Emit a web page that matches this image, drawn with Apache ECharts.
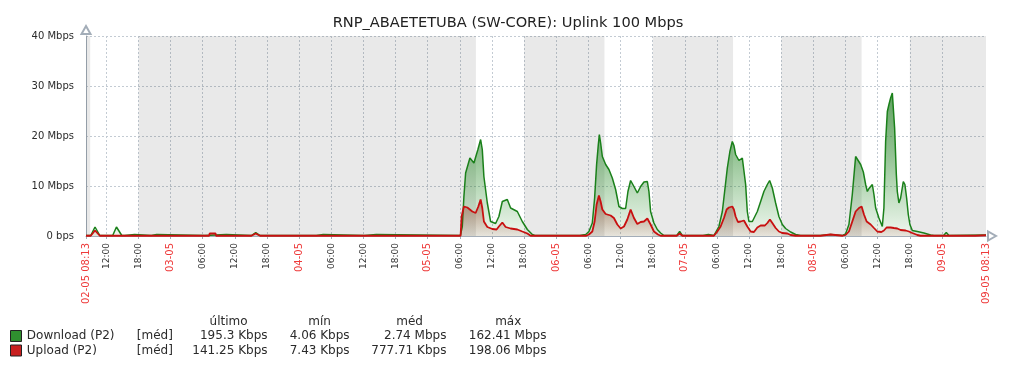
<!DOCTYPE html>
<html><head><meta charset="utf-8">
<script src="https://cdn.jsdelivr.net/npm/echarts@6/dist/echarts.min.js"></script>
<style>html,body{margin:0;padding:0;background:#fff}#c{width:1016px;height:368px}</style>
</head><body><div id="c"></div>
<script>
// ---------- data ----------
const chartTitle = 'RNP_ABAETETUBA (SW-CORE): Uplink 100 Mbps';
// x values are hours since 02-05 00:00
const xStart = 8 + 13 / 60;          // 02-05 08:13
const xEnd = xStart + 168;           // 09-05 08:13
const tickHours = [xStart, 12, 18, 24, 30, 36, 42, 48, 54, 60, 66, 72, 78, 84, 90, 96, 102, 108, 114, 120, 126, 132, 138, 144, 150, 156, 162, 168, xEnd];
const tickLabels = ['02-05 08:13', '12:00', '18:00', '03-05', '06:00', '12:00', '18:00', '04-05', '06:00', '12:00', '18:00', '05-05', '06:00', '12:00', '18:00', '06-05', '06:00', '12:00', '18:00', '07-05', '06:00', '12:00', '18:00', '08-05', '06:00', '12:00', '18:00', '09-05', '09-05 08:13'];
const yTicks = [0, 10, 20, 30, 40];
const yTickLabels = ['0 bps', '10 Mbps', '20 Mbps', '30 Mbps', '40 Mbps'];
// non-working periods (hours since 02-05 00:00)
const shadeRanges = [[xStart, 9], [18, 81], [90, 105], [114, 129], [138, 153], [162, xEnd]];

// Download (Mbps)
const downloadPoints = [
[8.22,0.1],[9.1,0.1],[9.9,1.8],[10.8,0.1],
[13.2,0.1],[13.9,1.8],[14.9,0.1],
[15.4,0.1],[15.5,0.3],[17.3,0.3],[17.4,0.1],
[20.4,0.1],[20.5,0.3],[21.4,0.3],[21.5,0.1],
[30.4,0.1],[30.5,0.3],[34.4,0.3],[34.5,0.1],
[39.1,0.1],[39.9,0.7],[40.7,0.1],
[51.2,0.1],[51.3,0.3],[52.5,0.3],[52.6,0.1],
[60.2,0.1],[60.3,0.3],[62.4,0.3],[62.5,0.1],
[78.1,0.1],[78.46,1.9],[78.76,7.9],[79.08,12.6],[79.88,15.6],[80.63,14.6],[80.95,14.9],[81.37,17.3],[81.88,19.3],[82.19,17.3],[82.49,11.9],[83.13,6.6],[83.74,2.9],[84.68,2.5],[85.29,3.9],[85.93,6.9],[86.86,7.3],[87.48,5.6],[88.73,4.9],[89.66,2.9],[90.6,1.3],[91.53,0.3],[92.0,0.1],
[100.4,0.1],[100.5,0.3],[101.5,0.3],[101.6,0.1],
[102.1,0.9],[102.73,2.6],[103.16,7.6],[103.53,14.3],[103.85,18.3],[104.04,20.3],[104.28,18.6],[104.6,15.9],[105.22,14.3],[105.83,13.3],[106.46,11.6],[107.08,9.3],[107.7,5.9],[108.33,5.5],[108.95,5.5],[109.38,8.9],[109.88,11.1],[110.5,9.9],[111.13,8.6],[111.75,9.9],[112.37,10.8],[113.0,10.9],[113.3,8.9],[113.61,4.9],[114.23,2.6],[114.86,1.3],[115.48,0.6],[116.1,0.1],
[118.5,0.1],[119.03,0.9],[119.53,0.1],
[123.4,0.1],[123.5,0.3],[124.4,0.3],[124.5,0.1],
[125.43,0.1],[125.74,0.4],[126.36,1.9],[127.0,4.9],[127.43,8.9],[127.93,13.6],[128.41,16.9],[128.86,18.9],[129.16,18.1],[129.48,16.3],[130.1,15.1],[130.73,15.6],[131.03,15.7],[131.35,10.3],[131.66,4.9],[131.96,2.9],[132.6,2.9],[132.9,3.3],[133.53,4.9],[134.15,6.9],[134.76,8.9],[135.4,10.3],[135.83,11.1],[136.33,9.6],[136.95,6.6],[137.56,3.9],[138.2,2.3],[138.81,1.5],[139.75,0.8],[140.68,0.3],[141.6,0.1],
[145.3,0.1],[145.35,0.3],[147.2,0.3],[147.3,0.1],
[149.45,0.1],[150.0,0.4],[150.63,2.3],[151.26,8.3],[151.88,15.9],[152.2,15.6],[152.82,14.3],[153.32,12.8],[153.75,10.3],[154.07,8.9],[154.37,9.5],[155.0,10.3],[155.3,8.3],[155.62,5.6],[156.23,3.6],[156.86,1.9],[157.16,5.6],[157.48,18.9],[157.8,24.9],[158.1,26.3],[158.41,27.6],[158.73,28.6],[158.92,28.6],[159.16,21.6],[159.48,12.3],[159.66,8.9],[159.96,6.6],[160.28,7.6],[160.78,10.9],[161.08,10.3],[161.4,7.6],[161.71,4.3],[162.01,2.3],[162.46,1.1],[163.4,0.9],[164.63,0.6],[165.88,0.2],[166.5,0.1],
[168.3,0.1],[168.8,0.7],[169.3,0.1],
[176.22,0.2]
];
// Upload (Mbps)
const uploadPoints = [
[8.22,0.05],[9.1,0.05],[9.9,1.1],[10.8,0.05],
[31.2,0.05],[31.3,0.5],[32.4,0.5],[32.5,0.05],
[39.1,0.05],[39.9,0.5],[40.7,0.05],
[78.14,0.05],[78.33,3.9],[78.76,5.9],[79.4,5.7],[80.33,4.9],[80.95,4.6],[81.45,5.9],[81.88,7.3],[82.19,5.6],[82.49,2.9],[83.13,1.8],[84.06,1.4],[84.86,1.3],[85.29,1.9],[85.93,2.7],[86.55,1.8],[87.48,1.5],[88.73,1.3],[89.66,0.9],[90.6,0.5],[91.21,0.05],
[101.6,0.05],[102.1,0.3],[102.73,0.9],[103.16,2.9],[103.53,6.3],[103.96,8.1],[104.28,6.9],[104.6,5.3],[105.22,4.4],[106.15,4.1],[106.76,3.6],[107.4,2.3],[108.02,1.5],[108.64,1.9],[109.26,3.3],[109.88,5.3],[110.5,3.6],[111.13,2.4],[111.75,2.8],[112.37,2.9],[113.0,3.5],[113.61,2.3],[114.23,0.9],[114.98,0.3],[115.48,0.05],
[118.5,0.05],[119.03,0.5],[119.53,0.05],
[125.43,0.05],[126.06,0.9],[126.68,1.9],[127.3,3.6],[127.8,5.3],[128.23,5.7],[128.86,5.9],[129.16,5.3],[129.48,3.9],[129.91,2.8],[130.41,2.9],[131.03,3.1],[131.66,1.9],[132.28,0.9],[132.9,0.8],[133.53,1.7],[134.15,2.1],[134.95,2.1],[135.4,2.6],[135.88,3.3],[136.33,2.6],[136.95,1.6],[137.56,0.9],[138.2,0.6],[139.13,0.5],[139.75,0.2],[140.68,0.05],
[145.3,0.05],[145.35,0.3],[147.2,0.3],[147.3,0.05],
[149.45,0.05],[150.0,0.2],[150.63,0.9],[151.26,2.9],[151.88,4.9],[152.5,5.6],[153.0,5.9],[153.44,4.3],[153.94,2.9],[154.69,2.3],[155.3,1.6],[155.93,0.9],[156.68,0.8],[157.16,1.1],[157.66,1.7],[158.41,1.7],[159.03,1.6],[159.66,1.5],[160.28,1.2],[161.21,1.1],[161.83,0.9],[162.46,0.6],[163.4,0.2],[164.0,0.05],
[174.2,0.05],[174.3,0.2],[176.22,0.15]
];

// legend table
const seriesNames = ['Download (P2)', 'Upload (P2)'];
const seriesFuncs = ['[méd]', '[méd]'];
const statHeaders = ['último', 'mín', 'méd', 'máx'];
const lastValues = ['195.3 Kbps', '141.25 Kbps'];
const minValues = ['4.06 Kbps', '7.43 Kbps'];
const avgValues = ['2.74 Mbps', '777.71 Kbps'];
const maxValues = ['162.41 Mbps', '198.06 Mbps'];

// ---------- chart ----------
const FONT = 'DejaVu Sans';
const TXT = '#2b2b2b';
const LEGEND_FONT = '12px "DejaVu Sans"';
const GRID = { left: 86, top: 36, width: 900, height: 200 };
const chart = echarts.init(document.getElementById('c'), null, { renderer: 'canvas' });

const greenFill = { type: 'linear', global: true, x: 0, y: GRID.top, x2: 0, y2: GRID.top + GRID.height,
  colorStops: [
    { offset: 0, color: 'rgba(20,110,20,1)' },
    { offset: 0.3, color: 'rgba(24,118,24,0.97)' },
    { offset: 0.6, color: 'rgba(30,130,30,0.68)' },
    { offset: 1, color: 'rgba(34,139,34,0.1)' } ] };
const redFill = { type: 'linear', global: true, x: 0, y: GRID.top, x2: 0, y2: GRID.top + GRID.height,
  colorStops: [
    { offset: 0, color: 'rgba(140,30,10,0.9)' },
    { offset: 0.7, color: 'rgba(140,30,10,0.72)' },
    { offset: 0.8, color: 'rgba(140,30,10,0.62)' },
    { offset: 1, color: 'rgba(140,30,10,0.12)' } ] };

function xLabel(v) {
  const i = tickHours.findIndex(t => Math.abs(t - v) < 1e-6);
  if (i < 0) return '';
  const s = tickLabels[i];
  return s.indexOf('-') >= 0 ? '{r|' + s + '}' : '{k|' + s + '}';
}

const graphics = [];
const colX = [228.6, 319.6, 409.6, 508.2];
const colRight = [267.5, 349.6, 446.4, 546.4];
const rowY = [336, 350.5];
const boxColors = ['#2f8f2f', '#c82020'];
statHeaders.forEach((h, i) => graphics.push({ type: 'text', x: colX[i], y: 322,
  style: { text: h, fill: TXT, font: LEGEND_FONT, textAlign: 'center', textVerticalAlign: 'middle' } }));
seriesNames.forEach((n, r) => {
  graphics.push({ type: 'rect', shape: { x: 10.5, y: rowY[r] - 5.5, width: 11, height: 11 },
    style: { fill: boxColors[r], stroke: '#222', lineWidth: 1 } });
  graphics.push({ type: 'text', x: 26.8, y: rowY[r], style: { text: n, fill: TXT, font: LEGEND_FONT, textVerticalAlign: 'middle' } });
  graphics.push({ type: 'text', x: 136.8, y: rowY[r], style: { text: seriesFuncs[r], fill: TXT, font: LEGEND_FONT, textVerticalAlign: 'middle' } });
  [lastValues, minValues, avgValues, maxValues].forEach((arr, c) => graphics.push({ type: 'text', x: colRight[c], y: rowY[r],
    style: { text: arr[r], fill: TXT, font: LEGEND_FONT, textAlign: 'right', textVerticalAlign: 'middle' } }));
});

const option = {
  animation: false,
  backgroundColor: '#ffffff',
  title: { text: chartTitle, left: 'center', top: 11,
    textStyle: { fontFamily: FONT, fontSize: 14.6, fontWeight: 'normal', color: '#222' } },
  grid: Object.assign({ outerBoundsMode: 'none', containLabel: false }, GRID),
  xAxis: {
    type: 'value', min: xStart, max: xEnd,
    axisLine: { show: true, lineStyle: { color: '#a3adb8', width: 1 }, symbol: ['none', 'emptyTriangle'], symbolSize: [9, 8], symbolOffset: [0, 6] },
    axisTick: { show: true, length: 3, lineStyle: { color: '#a3adb8' }, customValues: tickHours.slice(0, -1) },
    axisLabel: { customValues: tickHours, rotate: 90, margin: 7, formatter: xLabel,
      rich: { r: { color: '#ee3a3a', fontSize: 10, fontFamily: FONT }, k: { color: '#333', fontSize: 9, fontFamily: FONT } } },
    splitLine: { show: true, lineStyle: { color: '#c3cbd3', type: [2, 2], width: 1 } }
  },
  yAxis: {
    type: 'value', min: 0, max: 40, interval: 10,
    axisLine: { show: true, lineStyle: { color: '#a3adb8', width: 1 }, symbol: ['none', 'emptyTriangle'], symbolSize: [9, 8], symbolOffset: [0, 6] },
    axisTick: { show: false },
    axisLabel: { margin: 12, fontFamily: FONT, fontSize: 10, color: TXT,
      formatter: v => yTickLabels[yTicks.indexOf(v)] },
    splitLine: { show: true, lineStyle: { color: '#c3cbd3', type: [2, 2], width: 1 } }
  },
  series: [
    { type: 'line', name: seriesNames[0], data: downloadPoints, symbol: 'none', showSymbol: false, z: 3,
      lineStyle: { color: '#1a801a', width: 1.5 }, areaStyle: { origin: 'start', color: greenFill },
      markArea: { silent: true, z: 1, itemStyle: { color: 'rgba(0,0,0,0.085)' },
        data: shadeRanges.map(r => [{ xAxis: r[0] }, { xAxis: r[1] }]) } },
    { type: 'line', name: seriesNames[1], data: uploadPoints, symbol: 'none', showSymbol: false, z: 4,
      lineStyle: { color: '#c81010', width: 1.8 }, areaStyle: { origin: 'start', color: redFill } }
  ],
  graphic: graphics
};
chart.setOption(option);
</script>
</body></html>
